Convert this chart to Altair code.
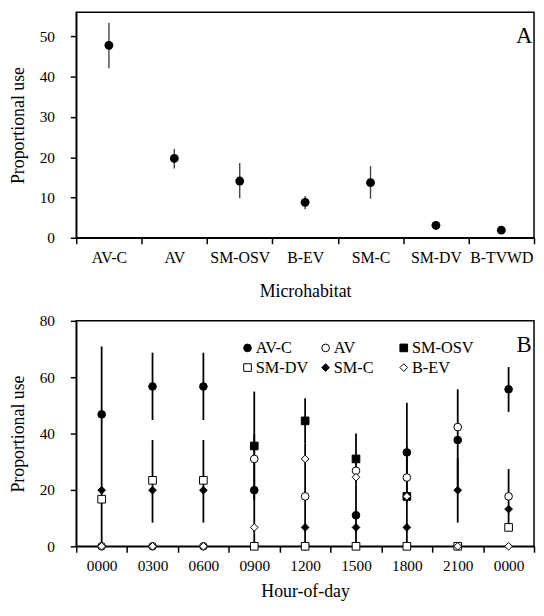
import altair as alt
import pandas as pd

# ---------- Panel A data ----------
micro = ["AV-C", "AV", "SM-OSV", "B-EV", "SM-C", "SM-DV", "B-TVWD"]
micro_use = [47.8, 19.7, 14.1, 8.8, 13.7, 3.1, 1.9]
micro_lo = [42.1, 17.2, 9.8, 7.1, 9.7, 2.0, 1.5]
micro_hi = [53.4, 22.1, 18.6, 10.4, 17.8, 4.0, 2.3]

# ---------- Panel B data ----------
hours = ["0000", "0300", "0600", "0900", "1200", "1500", "1800", "2100", "0000"]
series_legend = ["AV-C", "AV", "SM-OSV", "SM-DV", "SM-C", "B-EV"]
draw_order = ["AV-C", "AV", "SM-OSV", "SM-C", "SM-DV", "B-EV"]

vals = {
    "AV-C":   [46.8, 56.7, 56.7, 19.9, 0.0, 11.0, 33.3, 37.7, 55.7],
    "AV":     [0.0, 0.0, 0.0, 31.0, 17.7, 26.8, 24.4, 42.3, 17.7],
    "SM-OSV": [None, None, None, 35.6, 44.5, 31.0, 17.7, None, None],
    "SM-C":   [19.9, 19.9, 19.9, None, 6.7, 6.7, 6.7, 19.9, 13.2],
    "SM-DV":  [16.7, 23.4, 23.4, 0.0, 0.0, 0.0, 0.0, 0.0, 6.7],
    "B-EV":   [0.0, 0.0, 0.0, 6.7, 31.0, 24.5, 17.7, 0.0, 0.0],
}
err_lo = {
    "AV-C":   [0.0, 44.8, 44.8, 0.0, None, 0.0, 15.7, 19.7, 47.7],
    "AV":     [None, None, None, None, 0.0, None, None, None, 8.0],
    "SM-OSV": [None, None, None, 16.3, 36.5, 22.0, 0.0, None, None],
    "SM-C":   [None, None, None, None, None, None, None, 8.4, None],
    "SM-DV":  [None, 8.4, 8.4, None, None, None, None, None, None],
}
err_hi = {
    "AV-C":   [70.9, 68.7, 68.7, 39.8, None, 22.0, 50.9, 55.7, 63.6],
    "AV":     [None, None, None, None, 36.5, None, None, None, 27.4],
    "SM-OSV": [None, None, None, 54.9, 52.5, 40.0, 35.4, None, None],
    "SM-C":   [None, None, None, None, None, None, None, 31.4, None],
    "SM-DV":  [None, 37.7, 37.7, None, None, None, None, None, None],
}

FONT = "Liberation Serif"
W = 463

# ---------- Panel A ----------
dfA = pd.DataFrame({"micro": micro, "use": micro_use, "lo": micro_lo, "hi": micro_hi})

xA = alt.X("micro:N", sort=micro, title="Microhabitat",
           scale=alt.Scale(paddingInner=0, paddingOuter=0),
           axis=alt.Axis(labelAngle=0, tickBand="extent", labelFontSize=16,
                         labelPadding=6, titlePadding=17))
yA_scale = alt.Scale(domain=[0, 56], nice=False, zero=True)
yA_axis = alt.Axis(values=list(range(0, 56, 5)),
                   labelExpr="datum.value % 10 == 0 ? datum.label : ''",
                   labelFontSize={"condition": {"test": "datum.value % 10 == 0", "value": 15.5},
                                  "value": 0},
                   grid=False, labelPadding=16, titlePadding=12)

errA = alt.Chart(dfA).mark_rule(color="#444444", strokeWidth=1.4).encode(
    x=xA, y=alt.Y("lo:Q", scale=yA_scale, axis=yA_axis, title="Proportional use"),
    y2="hi:Q")
ptsA = alt.Chart(dfA).mark_point(shape="circle", filled=True, color="black",
                                 size=80, opacity=1).encode(
    x=xA, y=alt.Y("use:Q", scale=yA_scale))
labA = alt.Chart(pd.DataFrame({"t": ["A"]})).mark_text(
    font=FONT, fontSize=23, color="black", align="center", baseline="middle").encode(
    text="t:N", x=alt.value(W - 10), y=alt.value(24))

top = alt.layer(errA, ptsA, labA).properties(width=W, height=228)

# ---------- Panel B ----------
rows = []
for s in draw_order:
    for i, v in enumerate(vals[s]):
        if v is not None:
            rows.append({"slot": i, "series": s, "val": v})
dfB = pd.DataFrame(rows)

erows = []
for s in err_lo:
    for i, (lo, hi) in enumerate(zip(err_lo[s], err_hi[s])):
        if lo is not None:
            erows.append({"slot": i, "series": s, "lo": lo, "hi": hi})
dfE = pd.DataFrame(erows)

labels_js = "[" + ",".join("'%s'" % h for h in hours) + "]"
xB = alt.X("slot:O", title="Hour-of-day",
           scale=alt.Scale(domain=list(range(len(hours))), paddingInner=0, paddingOuter=0),
           axis=alt.Axis(labelAngle=0, tickBand="extent", labelExpr=labels_js + "[datum.value]",
                         labelFontSize=15.5, labelPadding=7, titlePadding=8))
yB_scale = alt.Scale(domain=[0, 80], nice=False)
yB_axis = alt.Axis(values=list(range(0, 81, 10)),
                   labelExpr="datum.value % 20 == 0 ? datum.label : ''",
                   labelFontSize={"condition": {"test": "datum.value % 20 == 0", "value": 15.5},
                                  "value": 0},
                   grid=False, labelPadding=16, titlePadding=12)

errB = alt.Chart(dfE).mark_rule(color="black", strokeWidth=1.8).encode(
    x=xB, y=alt.Y("lo:Q", scale=yB_scale, axis=yB_axis, title="Proportional use"),
    y2="hi:Q")

legend = alt.Legend(orient="none", legendX=165, legendY=331, columns=3, direction="horizontal",
                    title=None,
                    labelFont=FONT, labelFontSize=16.5, labelColor="black",
                    gridAlign="all", columnPadding=0, rowPadding=3, labelOffset=0,
                    symbolStrokeWidth=1, symbolStrokeColor="black")
ptsB = alt.Chart(dfB).mark_point(opacity=1, strokeWidth=1).encode(
    x=xB, y=alt.Y("val:Q", scale=yB_scale),
    shape=alt.Shape("series:N", scale=alt.Scale(
        domain=series_legend,
        range=["circle", "circle", "square", "square", "diamond", "diamond"]), legend=legend),
    fill=alt.Fill("series:N", scale=alt.Scale(
        domain=series_legend,
        range=["black", "white", "black", "white", "black", "white"]), legend=legend),
    stroke=alt.Stroke("series:N", scale=alt.Scale(
        domain=series_legend,
        range=["black"] * 6), legend=legend),
    size=alt.Size("series:N", scale=alt.Scale(
        domain=series_legend, range=[60, 60, 58, 58, 75, 80]), legend=legend),
    order=alt.Order("ord:Q"),
).transform_calculate(
    ord="indexof(%s, datum.series)" % ("[" + ",".join("'%s'" % s for s in draw_order) + "]")
)
labB = alt.Chart(pd.DataFrame({"t": ["B"]})).mark_text(
    font=FONT, fontSize=23, color="black", align="center", baseline="middle").encode(
    text="t:N", x=alt.value(W - 10), y=alt.value(25))

bottom = alt.layer(errB, ptsB, labB).properties(width=W, height=228)

chart = alt.vconcat(top, bottom, spacing=12).properties(
    padding={"left": 0, "top": 0, "right": 0, "bottom": 0}
).configure_view(
    stroke="black", strokeWidth=1.5
).configure_axis(
    domainColor="black", domainWidth=1.5, tickColor="black", tickWidth=1.5, tickSize=6,
    labelFont=FONT, labelColor="black", labelFontSize=15.5,
    titleFont=FONT, titleColor="black", titleFontSize=18, titleFontWeight="normal",
)

chart.save("out.html", embed_options={"renderer": "svg", "actions": False})
